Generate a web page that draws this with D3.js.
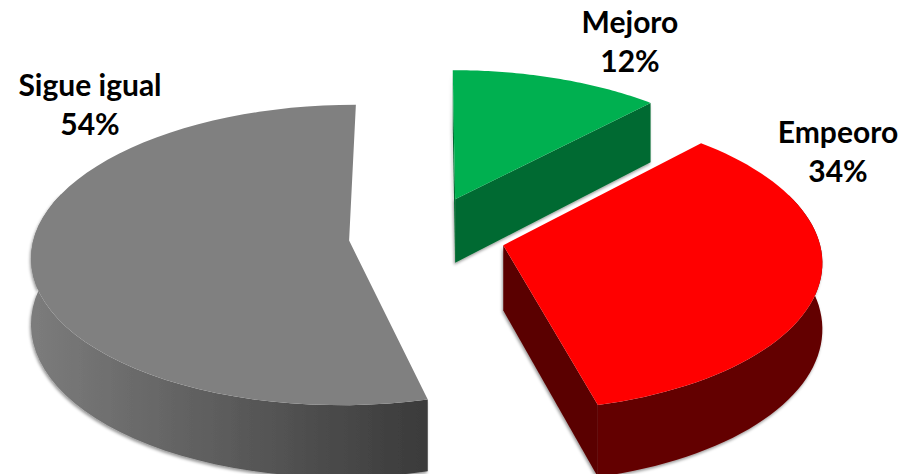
<!DOCTYPE html>
<html>
<head>
<meta charset="utf-8">
<script src="https://cdn.jsdelivr.net/npm/d3@7"></script>
<style>
html, body { margin: 0; background: #fff; }
svg { display: block; }
text { font-family: Lato, "Open Sans", sans-serif; font-weight: 700; font-size: 30px; fill: #000; }
</style>
</head>
<body>
<svg width="902" height="474"></svg>
<script>
"use strict";
const categories = ["Mejoro", "Empeoro", "Sigue igual"];
const shares = [12, 34, 54];
const percentLabels = ["12%", "34%", "54%"];

const topColors = ["#00b050", "#ff0000", "#808080"];
const cutColors = ["#006a30", "#5a0000", "#3c3c3c"];
const rimStart = ["#006a30", "#640000", "#7c7c7c"];
const rimEnd = ["#006a30", "#640000", "#3a3a3a"];
const labelSpots = [[630, 24], [838, 134], [90, 87]];

const svg = d3.select("svg");
const originX = 427;
const originY = 236;
const radiusX = 315;
const radiusY = 148;
const thickness = 65;
const depth = 0.095;
const explode = 0.2485;

// world unit disc -> screen, things nearer the viewer get bigger
function project(u, v, down) {
    const s = 1 / (1 - depth * v);
    return [originX + u * radiusX * s, originY + (v * radiusY + down * thickness) * s];
}

const pieLayout = d3.pie().sort(null).value(d => d);
const slices = pieLayout(shares).map((d, i) => {
    const mid = (d.startAngle + d.endAngle) / 2;
    const cu = Math.sin(mid) * explode;
    const cv = -Math.cos(mid) * explode * (i === 0 ? 1.1 : 1);
    const at = (angle, r, down) => project(cu + Math.sin(angle) * r, cv - Math.cos(angle) * r, down);
    const steps = d3.range(0, 61).map(k => d.startAngle + (d.endAngle - d.startAngle) * k / 60);
    return { index: i, at, steps, d };
});

const defs = svg.append("defs");
const shadow = defs.append("filter").attr("id", "soft")
    .attr("x", "-10%").attr("y", "-10%").attr("width", "120%").attr("height", "120%");
shadow.append("feDropShadow")
    .attr("dx", -1).attr("dy", 2).attr("stdDeviation", 1.5)
    .attr("flood-color", "#000").attr("flood-opacity", 0.4);

const line = d3.line();

// gray is behind everything, red last so it sits over the green wall
const order = [2, 0, 1];
order.forEach(i => {
    const s = slices[i];
    const g = svg.append("g").attr("class", "slice").attr("data-name", categories[i]);
    const sides = g.append("g").attr("filter", "url(#soft)");

    // walls running along the cuts, gray has none turned to the viewer
    [s.d.startAngle, s.d.endAngle].forEach((angle, w) => {
        const shows = i === 2 ? false : (i === 1 ? w === 1 : true);
        if (!shows) return;
        const wall = [s.at(angle, 0, 0), s.at(angle, 1, 0), s.at(angle, 1, 1), s.at(angle, 0, 1)];
        sides.append("path")
            .attr("d", line(wall) + "Z")
            .attr("fill", cutColors[i]);
    });

    // outer rim, only the part turned to the viewer
    const front = s.steps.filter(a => Math.cos(a) < 0.35);
    if (front.length > 1) {
        const upper = front.map(a => s.at(a, 1, 0));
        const lower = front.map(a => s.at(a, 1, 1)).reverse();
        const xs = d3.extent(upper, p => p[0]);
        const grad = defs.append("linearGradient")
            .attr("id", `rim${i}`)
            .attr("gradientUnits", "userSpaceOnUse")
            .attr("x1", xs[0]).attr("x2", xs[1]).attr("y1", 0).attr("y2", 0);
        grad.append("stop").attr("offset", 0).attr("stop-color", rimStart[i]);
        grad.append("stop").attr("offset", 1).attr("stop-color", rimEnd[i]);
        sides.append("path")
            .attr("d", line(upper.concat(lower)) + "Z")
            .attr("fill", `url(#rim${i})`);
    }

    // top face
    const outline = [s.at(0, 0, 0)].concat(s.steps.map(a => s.at(a, 1, 0)));
    g.append("path")
        .attr("d", line(outline) + "Z")
        .attr("fill", topColors[i]);
});

const labels = svg.append("g").attr("text-anchor", "middle");
categories.forEach((name, i) => {
    labels.append("text").attr("x", labelSpots[i][0]).attr("y", labelSpots[i][1] + 9).text(name);
    labels.append("text").attr("x", labelSpots[i][0]).attr("y", labelSpots[i][1] + 48).text(percentLabels[i]);
});
</script>
</body>
</html>
